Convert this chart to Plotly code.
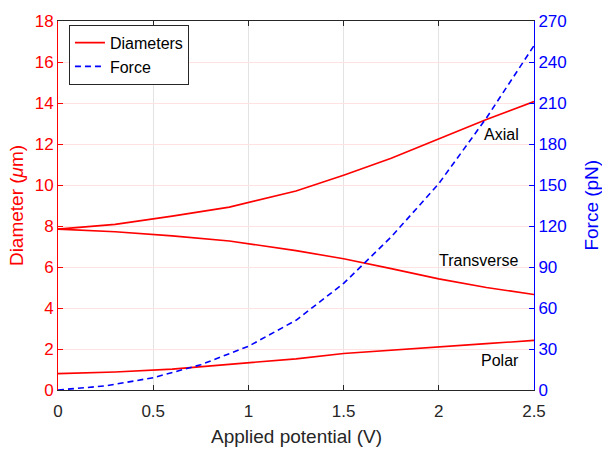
import plotly.graph_objects as go

# Data
potential_d = [0, 0.3, 0.6, 0.9, 1.25, 1.5, 1.75, 2.0, 2.25, 2.5]
axial = [7.85, 8.08, 8.48, 8.92, 9.71, 10.48, 11.3, 12.25, 13.2, 14.07]
transverse = [7.85, 7.72, 7.52, 7.27, 6.80, 6.40, 5.92, 5.42, 5.0, 4.66]
polar = [0.80, 0.88, 1.02, 1.25, 1.52, 1.78, 1.93, 2.08, 2.26, 2.42]

potential_f = [0, 0.25, 0.5, 0.75, 1.0, 1.25, 1.5, 1.75, 2.0, 2.25, 2.5]
force = [0, 3, 9, 18.5, 32, 51, 78, 112, 151, 199, 252]

x_ticks = [0, 0.5, 1, 1.5, 2, 2.5]
x_ticklabels = ["0", "0.5", "1", "1.5", "2", "2.5"]
yl_ticks = [0, 2, 4, 6, 8, 10, 12, 14, 16, 18]
yr_ticks = [0, 30, 60, 90, 120, 150, 180, 210, 240, 270]

RED = "#ff0000"
BLUE = "#0000ff"
FONT = "Liberation Sans, Arial, sans-serif"

fig = go.Figure()
fig.add_trace(go.Scatter(x=potential_d, y=axial, mode="lines", name="Diameters",
                         line=dict(color=RED, width=1.6)))
fig.add_trace(go.Scatter(x=potential_d, y=transverse, mode="lines", name="Diameters",
                         line=dict(color=RED, width=1.6), showlegend=False))
fig.add_trace(go.Scatter(x=potential_d, y=polar, mode="lines", name="Diameters",
                         line=dict(color=RED, width=1.6), showlegend=False))
fig.add_trace(go.Scatter(x=potential_f, y=force, mode="lines", name="Force", yaxis="y2",
                         line=dict(color=BLUE, width=1.6, dash="6px,4px")))

fig.update_layout(
    width=602, height=450,
    margin=dict(l=58, r=68, t=15, b=60),
    paper_bgcolor="white", plot_bgcolor="white",
    font=dict(family=FONT, size=17, color="#262626"),
    showlegend=True,
    legend=dict(x=0.023, y=0.99, xanchor="left", yanchor="top",
                bgcolor="white", bordercolor="#262626", borderwidth=1,
                font=dict(size=16, color="#000000"),
                tracegroupgap=0, itemwidth=30, traceorder="normal"),
    xaxis=dict(range=[0, 2.5], tickvals=x_ticks, ticktext=x_ticklabels,
               showgrid=True, gridcolor="#e3e3e3", gridwidth=1,
               showline=True, linecolor="#262626", linewidth=1, mirror="ticks",
               ticks="inside", ticklen=5, tickcolor="#262626", ticklabelstandoff=6,
               tickfont=dict(size=17, color="#262626"), zeroline=False),
    yaxis=dict(range=[0, 18], tickvals=yl_ticks,
               showgrid=True, gridcolor="#ffe3e3", gridwidth=1,
               showline=True, linecolor=RED, linewidth=1,
               ticks="inside", ticklen=5, tickcolor=RED,
               tickfont=dict(size=17, color=RED), zeroline=False),
    yaxis2=dict(range=[0, 270], tickvals=yr_ticks, overlaying="y", side="right",
                showgrid=False, showline=True, linecolor=BLUE, linewidth=1,
                ticks="inside", ticklen=5, tickcolor=BLUE,
                tickfont=dict(size=17, color=BLUE), zeroline=False),
    annotations=[
        dict(text="Applied potential (V)", xref="paper", yref="paper", x=0.5, y=-0.125,
             xanchor="center", yanchor="middle", showarrow=False,
             font=dict(size=19, color="#262626")),
        dict(text="Diameter (<i>μ</i>m)", xref="paper", yref="paper", x=-0.087, y=0.5,
             xanchor="center", yanchor="middle", showarrow=False, textangle=-90,
             font=dict(size=19, color=RED)),
        dict(text="Force (pN)", xref="paper", yref="paper", x=1.12, y=0.5,
             xanchor="center", yanchor="middle", showarrow=False, textangle=-90,
             font=dict(size=19, color=BLUE)),
        dict(text="Axial", xref="paper", yref="paper", x=0.973, y=0.693,
             xanchor="right", yanchor="middle", showarrow=False,
             font=dict(size=16, color="#000000")),
        dict(text="Transverse", xref="paper", yref="paper", x=0.973, y=0.352,
             xanchor="right", yanchor="middle", showarrow=False,
             font=dict(size=16, color="#000000")),
        dict(text="Polar", xref="paper", yref="paper", x=0.973, y=0.08,
             xanchor="right", yanchor="middle", showarrow=False,
             font=dict(size=16, color="#000000")),
    ],
)

fig.write_html("out.html")
